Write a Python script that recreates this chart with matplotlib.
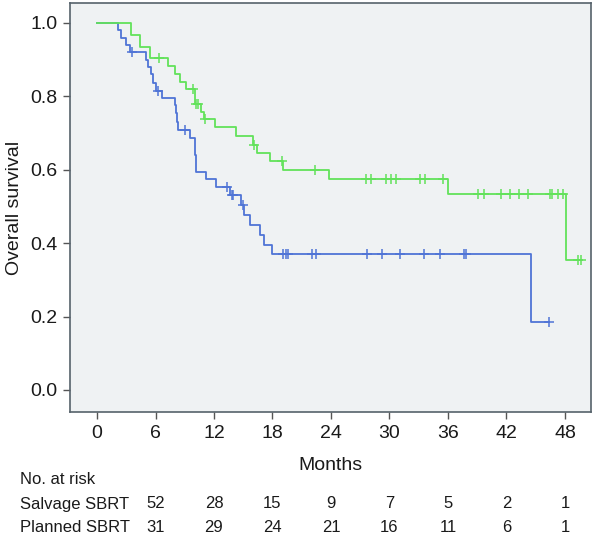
import matplotlib
matplotlib.use("Agg")
import matplotlib.pyplot as plt
import matplotlib.transforms as mtransforms
import numpy as np

plt.rcParams['font.family'] = ['Liberation Sans', 'DejaVu Sans']

# Salvage SBRT (blue) step curve: event times (months) and survival after each step
salvage_times = [0, 2.2, 2.5, 3.0, 3.4, 5.0, 5.2, 5.5, 5.7, 6.1, 6.7, 8.0, 8.1, 8.2, 8.3,
                 9.5, 10.05, 10.1, 10.15, 10.2, 11.2, 12.2, 13.6, 14.8, 15.1, 15.7,
                 16.7, 17.1, 17.9, 44.5]
salvage_surv = [1.0, 0.98, 0.96, 0.94, 0.92, 0.90, 0.88, 0.86, 0.835, 0.815, 0.795, 0.775,
                0.755, 0.73, 0.708, 0.686, 0.66, 0.64, 0.618, 0.595, 0.574, 0.552, 0.531,
                0.504, 0.477, 0.45, 0.422, 0.395, 0.37, 0.185]
salvage_end = 46.4
salvage_censor = [3.6, 6.3, 9.0, 13.3, 13.8, 13.9, 15.0, 19.1, 19.4, 19.6, 22.1, 22.5,
                  27.7, 29.2, 31.1, 33.5, 35.2, 37.6, 37.8, 46.4]

# Planned SBRT (green)
planned_times = [0, 3.5, 4.4, 5.4, 7.3, 8.0, 8.5, 9.1, 10.05, 10.7, 11.0, 12.1, 14.3,
                 16.0, 16.4, 17.7, 19.1, 23.8, 36.0, 48.1]
planned_surv = [1.0, 0.968, 0.935, 0.903, 0.882, 0.861, 0.84, 0.82, 0.78, 0.757, 0.737,
                0.715, 0.692, 0.668, 0.646, 0.623, 0.60, 0.575, 0.533, 0.355]
planned_end = 49.6
planned_censor = [6.4, 9.8, 10.2, 10.4, 11.1, 16.1, 19.0, 22.4, 27.6, 28.1, 29.6, 30.2,
                  30.7, 33.1, 33.6, 35.5, 39.1, 39.7, 41.4, 42.4, 43.3, 44.2, 46.5, 46.7,
                  47.3, 47.8, 49.3, 49.6]

x_ticks = [0, 6, 12, 18, 24, 30, 36, 42, 48]
y_ticks = [0.0, 0.2, 0.4, 0.6, 0.8, 1.0]
risk_times = [6, 12, 18, 24, 30, 36, 42, 48]
risk_salvage = [52, 28, 15, 9, 7, 5, 2, 1]
risk_planned = [31, 29, 24, 21, 16, 11, 6, 1]

blue = '#4f74d6'
green = '#62e25a'
txt = '#1a1a1a'

fig = plt.figure(figsize=(5.94, 5.39), dpi=100)
ax = fig.add_axes([70/594, 1-412/539, (591-70)/594, (412-3)/539])
ax.set_facecolor('#eff2f3')

def step_value(times, surv, t):
    idx = np.searchsorted(times, t, side='right') - 1
    return surv[idx]

for times, surv, end, cens, col in [
        (salvage_times, salvage_surv, salvage_end, salvage_censor, blue),
        (planned_times, planned_surv, planned_end, planned_censor, green)]:
    tx = list(times) + [end]
    sy = list(surv) + [surv[-1]]
    ax.step(tx, sy, where='post', color=col, lw=1.3)
    cy = [step_value(np.array(times), surv, c) for c in cens]
    ax.plot(cens, cy, linestyle='none', marker='+', color=col, ms=7, mew=1.1)

ax.set_xlim(-2.77, 50.67)
ax.set_ylim(-0.06, 1.054)
ax.set_xticks(x_ticks)
ax.set_yticks(y_ticks)
ax.set_yticklabels([f'{v:.1f}' for v in y_ticks])
ax.tick_params(direction='out', length=5, width=1, color='#555555', labelsize=14,
               labelcolor=txt, pad=4)
for s in ax.spines.values():
    s.set_color('#56626b')
    s.set_linewidth(1.2)
ax.set_ylabel('Overall survival', fontsize=14, color=txt, labelpad=5)
ax.set_xlabel('Months', fontsize=14, color=txt, labelpad=11)

trans = mtransforms.blended_transform_factory(ax.transData, fig.transFigure)
fig.text(20/594, 1-479/539, 'No. at risk', fontsize=12, va='center', ha='left', color=txt)
fig.text(20/594, 1-504/539, 'Salvage SBRT', fontsize=12, va='center', ha='left', color=txt)
fig.text(20/594, 1-528/539, 'Planned SBRT', fontsize=12, va='center', ha='left', color=txt)
for t, a, b in zip(risk_times, risk_salvage, risk_planned):
    ax.text(t, 1-504/539, str(a), transform=trans, fontsize=12, ha='center', va='center',
            color=txt, clip_on=False)
    ax.text(t, 1-528/539, str(b), transform=trans, fontsize=12, ha='center', va='center',
            color=txt, clip_on=False)

fig.savefig('out.png', dpi=100)
